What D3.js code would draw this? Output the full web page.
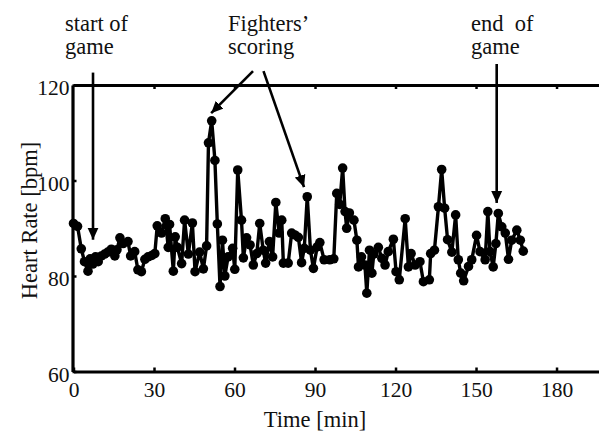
<!DOCTYPE html>
<html>
<head>
<meta charset="utf-8">
<script src="https://cdn.jsdelivr.net/npm/d3@7/dist/d3.min.js"></script>
<style>
    body { margin: 0; background: #fff; }
    svg { display: block; font-family: "Liberation Serif", "Times New Roman", serif; }
</style>
</head>
<body>
<div class="chart"></div>
<script>

// minutes since start
var times = [0, 1.5, 2.9, 4.1, 5.4, 6.2, 7.2, 8.2, 9.2, 10.4, 11.6, 12.8, 14.1, 15.4, 16.2, 17.3, 18.5, 20.3,
    21.3, 22.8, 24.0, 25.3, 26.6, 27.8, 29.2, 30.3, 31.2, 32.8, 34.2, 35.3, 35.8, 37.2, 37.9, 38.7, 40.3,
    41.4, 42.8, 44.3, 45.3, 47.0, 48.4, 49.6, 50.3, 51.5, 52.7, 53.6, 54.6, 55.5, 56.4, 57.6, 59.3, 60.1,
    61.2, 62.6, 63.3, 64.5, 65.8, 67.0, 68.3, 69.4, 70.7, 71.6, 73.0, 74.2, 75.4, 76.6, 77.6, 78.2, 80.0,
    81.3, 82.5, 83.8, 85.0, 86.0, 87.1, 88.3, 89.4, 90.8, 91.8, 93.4, 95.5, 97.0, 98.1, 99.2, 100.3, 101.2,
    101.8, 102.8, 104.5, 105.6, 106.2, 107.3, 108.6, 109.3, 110.3, 111.2, 111.9, 113.6, 114.9, 116.1, 117.3,
    119.2, 120.2, 121.4, 123.6, 124.8, 125.8, 127.3, 129.1, 130.4, 132.6, 133.1, 134.5, 136.0, 137.2, 138.3,
    139.4, 141.0, 142.4, 143.4, 144.3, 145.4, 147.2, 148.4, 150.2, 151.5, 153.4, 154.4, 155.2, 156.4, 157.4,
    158.3, 159.6, 160.9, 162.1, 163.3, 165.2, 166.5, 167.6];

var heartRate = [91, 90.4, 85.7, 83, 81, 83.6, 82.5, 84, 83, 84.2, 84.6, 85, 85.6, 84.2, 85.5, 88, 86.8, 87.2,
    84.2, 85.1, 81.3, 80.9, 83.5, 84, 84.3, 84.7, 90.5, 89, 92, 86, 90.8, 81, 88.2, 86, 82.6,
    91.7, 84.6, 91.1, 80.9, 85, 81.5, 86.3, 107.9, 112.5, 104.2, 90.9, 77.8, 87.5, 80, 84, 85.8, 81.4,
    102.2, 91.7, 83.8, 88, 86.5, 82.3, 84.7, 91, 85.4, 82.7, 87.2, 84, 95.4, 89, 91.7, 82.7, 82.7,
    89, 88.6, 88.1, 82.8, 85.8, 96.6, 85.4, 81.6, 86.1, 87, 83.4, 83.4, 83.6, 97.3, 95, 102.6, 93.5,
    90, 93.2, 91.7, 87.5, 81.9, 84, 82.3, 76.4, 85.4, 80.6, 84.6, 86, 83.7, 82.3, 85.1,
    87.7, 80.9, 79.2, 92, 81.9, 84.7, 82.3, 83, 78.8, 79.2, 84.7, 85.4, 94.5, 102.3, 94.2,
    87.6, 85, 92.8, 83.4, 80.6, 79, 82, 83.4, 88.5, 85.1, 83.4, 93.5, 85.1, 81.9, 86.8,
    93.1, 90.3, 89, 83.5, 87.5, 89.6, 87.5, 85.2];

var xTicks = [0, 30, 60, 90, 120, 150, 180];
var yTicks = [60, 80, 100, 120];

// annotation text and arrows (tail -> tip) in data units
var noteLines = [["start of", "game"], ["Fighters\u2019", "scoring"], ["end  of", "game"]];
var arrowTails = [[7.27, 122.6], [66.9, 122.9], [70.8, 122.9], [157.7, 124.4]];
var arrowTips = [[7.27, 87.6], [51.3, 114.1], [85.9, 98.6], [157.7, 95.3]];

function drawChart() {
    const W = 599, H = 433;

    var x = d3.scaleLinear().domain([0, 200]).range([73.5, 610.2]);
    var y = d3.scaleLinear().domain([60, 120]).range([371.5, 85]);

    var svg = d3.select(".chart").append("svg")
        .attr("width", W)
        .attr("height", H);

    svg.append("defs").append("marker")
        .attr("id", "head")
        .attr("markerUnits", "userSpaceOnUse")
        .attr("viewBox", "0 -6 12 12")
        .attr("refX", 12).attr("refY", 0)
        .attr("markerWidth", 12).attr("markerHeight", 12)
        .attr("orient", "auto")
        .append("path")
        .attr("d", "M0,-5.5L12,0L0,5.5Z")
        .attr("fill", "#000");

    // axes (box open on the right, it runs off the picture)
    var bottom = svg.append("g")
        .attr("transform", "translate(0," + y(60) + ")")
        .call(d3.axisBottom(x).tickValues(xTicks).tickFormat(d3.format("d"))
            .tickSizeInner(-4).tickSizeOuter(0).tickPadding(10.5));

    var top = svg.append("g")
        .attr("transform", "translate(0," + y(120) + ")")
        .call(d3.axisTop(x).tickValues(xTicks.slice(1)).tickFormat("")
            .tickSizeInner(-4).tickSizeOuter(0));

    var left = svg.append("g")
        .attr("transform", "translate(" + (x(0) - 1) + ",0)")
        .call(d3.axisLeft(y).tickValues(yTicks).tickFormat(d3.format("d"))
            .tickSizeInner(-4).tickSizeOuter(0).tickPadding(3));

    [bottom, top, left].forEach(function (g) {
        g.select(".domain").attr("stroke", "#000").attr("stroke-width", 3.2);
        g.selectAll(".tick line").attr("stroke", "#000").attr("stroke-width", 2.5);
        g.selectAll(".tick text")
            .attr("fill", "#111")
            .style("font-family", "Liberation Serif")
            .style("font-size", "21.5px");
    });
    left.selectAll(".tick text").attr("dy", ".45em");

    // series
    var pts = times.map((t, i) => [t, heartRate[i]]);

    svg.append("path")
        .datum(pts)
        .attr("fill", "none")
        .attr("stroke", "#000")
        .attr("stroke-width", 3.4)
        .attr("stroke-linejoin", "round")
        .attr("d", d3.line().x(d => x(d[0])).y(d => y(d[1])));

    svg.append("g").selectAll("circle")
        .data(pts)
        .enter().append("circle")
        .attr("cx", d => x(d[0]))
        .attr("cy", d => y(d[1]))
        .attr("r", 4.8)
        .attr("fill", "#000");

    // annotations
    svg.append("g").selectAll("line")
        .data(arrowTails)
        .enter().append("line")
        .attr("x1", d => x(d[0]))
        .attr("y1", d => y(d[1]))
        .attr("x2", (d, i) => x(arrowTips[i][0]))
        .attr("y2", (d, i) => y(arrowTips[i][1]))
        .attr("stroke", "#000")
        .attr("stroke-width", 2.6)
        .attr("marker-end", "url(#head)");

    var noteX = [65, 228, 471];
    noteLines.forEach(function (lines, i) {
        var t = svg.append("text")
            .attr("x", noteX[i])
            .attr("y", 31)
            .style("font-size", "22.5px")
            .style("white-space", "pre")
            .attr("fill", "#111");
        lines.forEach(function (s, k) {
            t.append("tspan").attr("x", noteX[i]).attr("dy", k ? 23 : 0).text(s);
        });
    });

    svg.append("text")
        .attr("x", 315)
        .attr("y", 427)
        .attr("text-anchor", "middle")
        .attr("fill", "#111")
        .style("font-size", "22.5px")
        .text("Time [min]");

    svg.append("text")
        .attr("transform", "translate(36.5,220.5) rotate(-90)")
        .attr("text-anchor", "middle")
        .attr("fill", "#111")
        .style("font-size", "22.5px")
        .text("Heart Rate [bpm]");
}

drawChart();
</script>
</body>
</html>
